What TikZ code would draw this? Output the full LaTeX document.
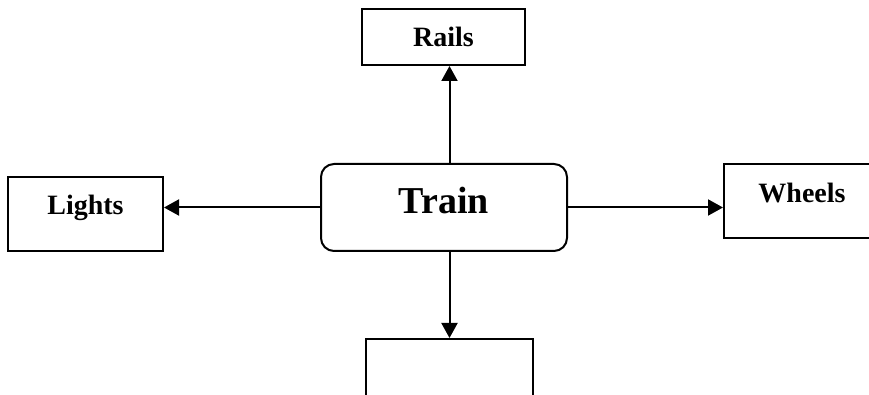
\documentclass[tikz,border=0pt]{standalone}
\usepackage{fontspec}
\setmainfont{Liberation Serif}
\usetikzlibrary{positioning, arrows.meta, calc}
\tikzset{boxtip/.tip={Triangle[length=7.5pt, width=8pt]}}

\begin{document}
\begin{tikzpicture}[
    x=0.5pt, y=-0.5pt,
    every node/.style={
        draw = black,
        line width = 1pt,
        inner sep = 0pt,
        font = \fontsize{14}{16}\selectfont\bfseries
    },
    partbox/.style={minimum width = #1, minimum height = 37pt},
    line width = 1pt,
    >={boxtip}
]
\useasboundingbox (0,0) rectangle (869,395);
\clip (0,0) rectangle (869,395);

% centre
\node[minimum width = 123pt, minimum height = 43.5pt, rounded corners = 6.5pt,
      text height = 12.5pt, text depth = 6.7pt,
      font = \fontsize{19}{22}\selectfont\bfseries] (train) at (444, 207.5) {Train};

% parts
\node[minimum width = 81.5pt, minimum height = 28pt, text height = 9.5pt, text depth = 0pt] (rails) at (443.5, 37) {Rails};
\node[partbox = 77.5pt, text height = 7pt, text depth = 6pt] (lights) at (85.5, 214) {Lights};
\node[partbox = 78pt, text height = 7pt, text depth = 5.7pt] (wheels) at (802, 201) {Wheels};
\node[partbox = 83.5pt] (bottom) at (449.5, 376) {};

% arrows
\draw[->] (train.north -| bottom.north) -- (rails.south -| bottom.north);
\draw[->] (train.west) -- (train.west -| lights.east);
\draw[->] (train.east) -- (train.east -| wheels.west);
\draw[->] (train.south -| bottom.north) -- (bottom.north);

\end{tikzpicture}
\end{document}
